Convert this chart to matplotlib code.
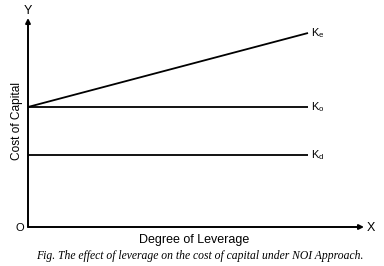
import numpy as np
import matplotlib.pyplot as plt

# leverage (x) and cost of capital lines (y)
leverage = [0, 10]
ke = [12, 19.4]
ko = [12, 12]
kd = [7.2, 7.2]
labels = ['e', 'o', 'd']

plt.rcParams['font.family'] = ['Liberation Sans', 'DejaVu Sans']
plt.rcParams['mathtext.fontset'] = 'custom'
plt.rcParams['mathtext.rm'] = 'Liberation Sans'
plt.rcParams['mathtext.it'] = 'Liberation Sans'

fig = plt.figure(figsize=(3.84, 2.66), dpi=100)
ax = fig.add_axes([0, 0, 1, 1])
ax.set_xlim(-1, 12.714)
ax.set_ylim(-3.9, 22.7)
ax.axis('off')

# axes with arrows
ax.annotate('', xy=(0, 20.9), xytext=(0, 0),
            arrowprops=dict(arrowstyle='-|>', color='black', lw=1.4,
                            mutation_scale=7, shrinkA=0, shrinkB=0))
ax.annotate('', xy=(12.0, 0), xytext=(0, 0),
            arrowprops=dict(arrowstyle='-|>', color='black', lw=1.4,
                            mutation_scale=7, shrinkA=0, shrinkB=0))

for ys, lab in zip([ke, ko, kd], labels):
    ax.plot(leverage, ys, color='black', lw=1.3, solid_capstyle='butt')
    ax.text(leverage[1] + 0.12, ys[1], 'K$_{\\mathregular{%s}}$' % lab,
            fontsize=8, va='center', ha='left')

ax.text(0.0, 21.6, 'Y', fontsize=9, ha='center', va='center')
ax.text(-0.3, -0.1, 'O', fontsize=8, ha='center', va='center')
ax.text(12.25, -0.1, 'X', fontsize=9, ha='center', va='center')
ax.text(-0.38, 10.6, 'Cost of Capital', fontsize=8.6, rotation=90,
        ha='center', va='center')
ax.text(5.95, -1.3, 'Degree of Leverage', fontsize=9, ha='center', va='center')
ax.text(6.15, -2.9, 'Fig. The effect of leverage on the cost of capital under NOI Approach.',
        fontsize=8.4, ha='center', va='center', style='italic',
        family='Liberation Serif')

fig.savefig('out.png', dpi=100)
